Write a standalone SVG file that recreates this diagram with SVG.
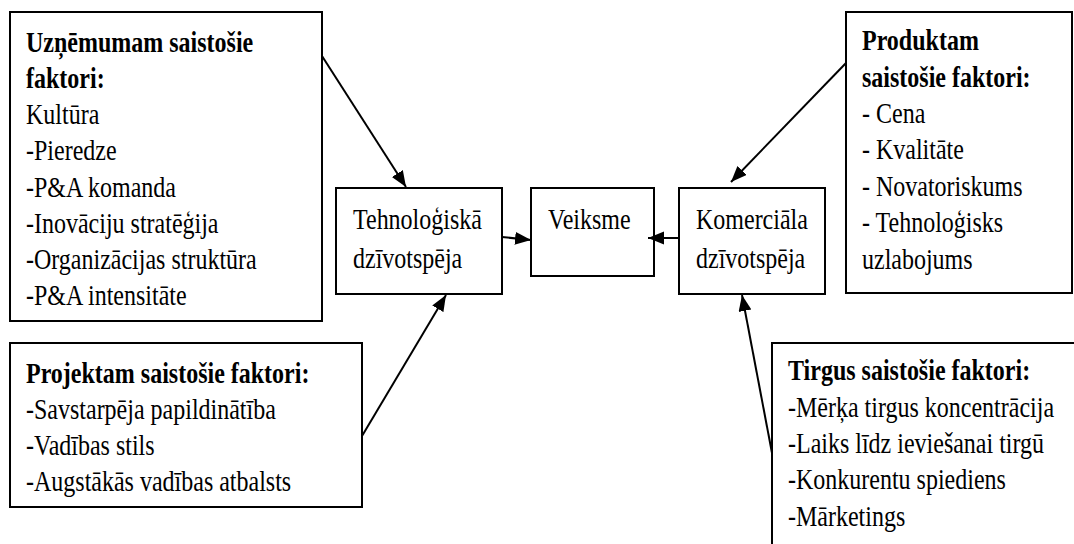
<svg xmlns="http://www.w3.org/2000/svg" width="1074" height="544" viewBox="0 0 1074 544">
<style>
.box{fill:#fff;stroke:#000;stroke-width:2}
.t{font-family:"Liberation Serif","Times New Roman",serif;font-size:30px;fill:#000}
.b{font-weight:bold}
.c{stroke:#000;stroke-width:2;fill:none;marker-end:url(#ah)}
</style>
<defs>
<marker id="ah" markerUnits="userSpaceOnUse" markerWidth="17" markerHeight="14" refX="16" refY="6.5" orient="auto">
<path d="M0,0 L16,6.5 L0,13 z" fill="#000"/>
</marker>
</defs>
<g id="uznemums">
<rect class="box" x="10" y="12" width="312" height="309"/>
<g transform="translate(26,0) scale(0.8,1)">
<text class="t"><tspan class="b" x="0" y="52">Uzņēmumam saistošie</tspan><tspan class="b" x="0" y="88">faktori:</tspan><tspan x="0" y="124">Kultūra</tspan><tspan x="0" y="160">-Pieredze</tspan><tspan x="0" y="197">-P&amp;A komanda</tspan><tspan x="0" y="233">-Inovāciju stratēģija</tspan><tspan x="0" y="269">-Organizācijas struktūra</tspan><tspan x="0" y="305">-P&amp;A intensitāte</tspan></text>
</g>
</g>
<g id="projekts">
<rect class="box" x="10" y="343" width="352" height="164"/>
<g transform="translate(26,0) scale(0.8,1)">
<text class="t"><tspan class="b" x="0" y="383">Projektam saistošie faktori:</tspan><tspan x="0" y="419">-Savstarpēja papildinātība</tspan><tspan x="0" y="455">-Vadības stils</tspan><tspan x="0" y="491">-Augstākās vadības atbalsts</tspan></text>
</g>
</g>
<g id="tehnologiska">
<rect class="box" x="336" y="188" width="166" height="106"/>
<g transform="translate(353,0) scale(0.8,1)">
<text class="t"><tspan x="0" y="229">Tehnoloģiskā</tspan><tspan x="0" y="268">dzīvotspēja</tspan></text>
</g>
</g>
<g id="veiksme">
<rect class="box" x="531" y="188" width="123" height="88"/>
<g transform="translate(548,0) scale(0.8,1)">
<text class="t"><tspan x="0" y="229">Veiksme</tspan></text>
</g>
</g>
<g id="komerciala">
<rect class="box" x="679" y="188" width="146" height="106"/>
<g transform="translate(696,0) scale(0.8,1)">
<text class="t"><tspan x="0" y="229">Komerciāla</tspan><tspan x="0" y="268">dzīvotspēja</tspan></text>
</g>
</g>
<g id="produkts">
<rect class="box" x="846" y="12" width="226" height="281"/>
<g transform="translate(862,0) scale(0.8,1)">
<text class="t"><tspan class="b" x="0" y="50">Produktam</tspan><tspan class="b" x="0" y="87">saistošie faktori:</tspan><tspan x="0" y="123">- Cena</tspan><tspan x="0" y="159">- Kvalitāte</tspan><tspan x="0" y="196">- Novatoriskums</tspan><tspan x="0" y="232">- Tehnoloģisks</tspan><tspan x="0" y="269">uzlabojums</tspan></text>
</g>
</g>
<g id="tirgus">
<rect class="box" x="772" y="343" width="320" height="230"/>
<g transform="translate(788,0) scale(0.8,1)">
<text class="t"><tspan class="b" x="0" y="380">Tirgus saistošie faktori:</tspan><tspan x="0" y="417">-Mērķa tirgus koncentrācija</tspan><tspan x="0" y="453">-Laiks līdz ieviešanai tirgū</tspan><tspan x="0" y="489">-Konkurentu spiediens</tspan><tspan x="0" y="526">-Mārketings</tspan></text>
</g>
</g>
<g id="connectors">
<line class="c" x1="322" y1="56" x2="406" y2="187"/>
<line class="c" x1="362" y1="436" x2="446" y2="295"/>
<line class="c" x1="502" y1="237" x2="531" y2="240"/>
<line class="c" x1="679" y1="238" x2="648" y2="238"/>
<line class="c" x1="846" y1="63" x2="731" y2="182"/>
<line class="c" x1="772" y1="453" x2="742" y2="295"/>
</g>
</svg>
